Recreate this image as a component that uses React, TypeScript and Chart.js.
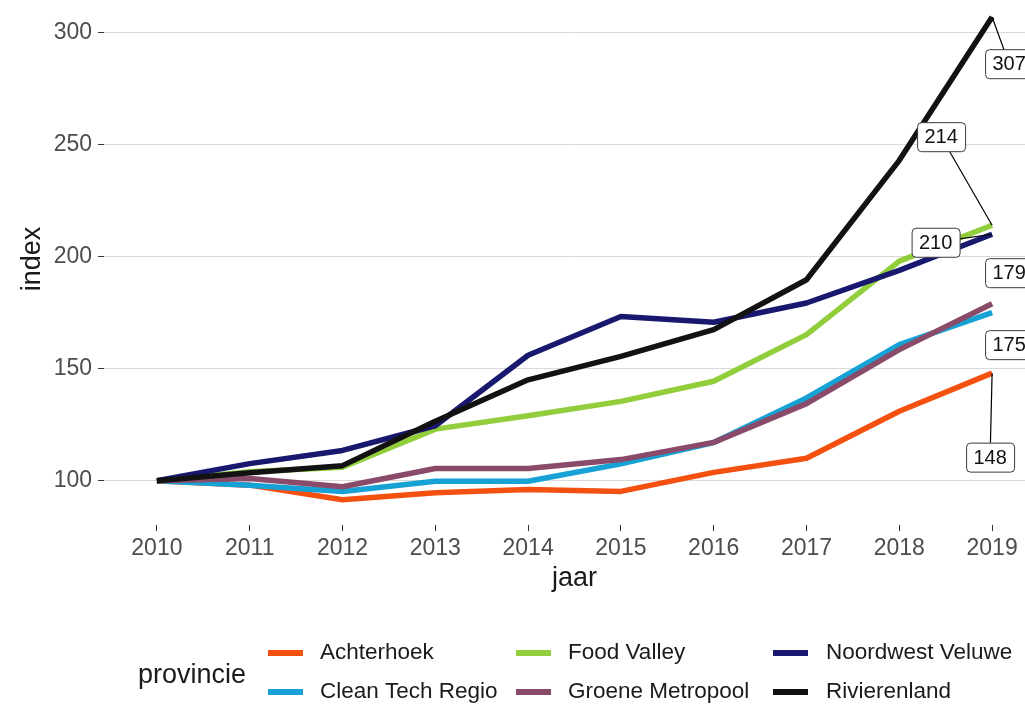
import React, { useEffect, useRef } from "react";
import { Chart, registerables } from "chart.js";

Chart.register(...registerables);

// ---------- data ----------
const years = [2010, 2011, 2012, 2013, 2014, 2015, 2016, 2017, 2018, 2019];
const seriesNames = [
  "Achterhoek",
  "Clean Tech Regio",
  "Food Valley",
  "Groene Metropool",
  "Noordwest Veluwe",
  "Rivierenland",
];
const achterhoek = [100, 98, 91.5, 94.6, 96, 95.2, 103.7, 110, 131, 148];
const cleanTechRegio = [100, 98, 95.2, 99.7, 99.7, 107.5, 117, 136.9, 160.7, 175];
const foodValley = [100, 104, 106, 123, 129, 135.4, 144.4, 165.2, 198, 214];
const groeneMetropool = [100, 101, 97.3, 105.4, 105.4, 109.4, 117.1, 134.4, 158.5, 179];
const noordwestVeluwe = [100, 107.6, 113.5, 124.5, 156, 173.3, 170.7, 179.3, 193.9, 210];
const rivierenland = [100, 103.5, 106.7, 126.5, 145, 155.5, 167.4, 189.7, 243, 307];
const yTicks = [100, 150, 200, 250, 300];
const xTicks = years;

// ---------- style / layout ----------
const seriesValues = [achterhoek, cleanTechRegio, foodValley, groeneMetropool, noordwestVeluwe, rivierenland];
const colors = ["#F4500F", "#16A2D4", "#92CD3C", "#8A4B6A", "#17186E", "#121212"];
const labelOffsets: [number, number][] = [
  [-2, 84],
  [17, 32],
  [-51, -88.6],
  [17, -31],
  [-56.5, 8],
  [17, 46.7],
];
const FONT = '"Liberation Sans", Arial, sans-serif';
const OFF = 20; // canvas is shifted up by this many px
const CW = 1080;
const CH = 725;

const endLabelPlugin = {
  id: "endLabels",
  afterDatasetsDraw(chart: any) {
    const ctx = chart.ctx;
    const xs = chart.scales.x;
    const ys = chart.scales.y;
    ctx.save();
    chart.data.datasets.forEach((ds: any, i: number) => {
      const last = ds.data[ds.data.length - 1];
      const px = xs.getPixelForValue(last.x);
      const py = ys.getPixelForValue(last.y);
      const [dx, dy] = labelOffsets[i];
      const cx = px + dx;
      const cy = py + dy;
      const w = 48;
      const h = 29;
      const bx = cx - w / 2;
      const by = cy - h / 2;
      const vx = cx - px;
      const vy = cy - py;
      let t = 1;
      if (Math.abs(vx) > 0.001) t = Math.min(t, (w / 2) / Math.abs(vx));
      if (Math.abs(vy) > 0.001) t = Math.min(t, (h / 2) / Math.abs(vy));
      const ex = cx - vx * t;
      const ey = cy - vy * t;
      const len = Math.hypot(ex - px, ey - py);
      if (len > 20) {
        ctx.strokeStyle = "#000";
        ctx.lineWidth = 1.2;
        ctx.beginPath();
        ctx.moveTo(px, py);
        ctx.lineTo(ex, ey);
        ctx.stroke();
      }
      ctx.fillStyle = "#ffffff";
      ctx.strokeStyle = "#3a3a3a";
      ctx.lineWidth = 1;
      ctx.beginPath();
      (ctx as any).roundRect(bx + 0.5, by + 0.5, w, h, 4);
      ctx.fill();
      ctx.stroke();
      ctx.fillStyle = "#111";
      ctx.font = `20px ${FONT}`;
      ctx.textAlign = "center";
      ctx.textBaseline = "middle";
      ctx.fillText(String(Math.round(last.y)), cx, cy + 1);
    });
    ctx.restore();
  },
};

const legendPlugin = {
  id: "ggLegend",
  afterDraw(chart: any) {
    const ctx = chart.ctx;
    ctx.save();
    ctx.textBaseline = "middle";
    ctx.textAlign = "left";
    ctx.fillStyle = "#1a1a1a";
    ctx.font = `27px ${FONT}`;
    ctx.fillText("provincie", 138, 675.5 + OFF);
    const swatchX = [268, 516, 773];
    const textX = [320, 568, 826];
    const rowY = [653, 692];
    chart.data.datasets.forEach((ds: any, i: number) => {
      const c = Math.floor(i / 2);
      const r = i % 2;
      const y = rowY[r] + OFF;
      ctx.strokeStyle = ds.borderColor;
      ctx.lineWidth = 6;
      ctx.lineCap = "butt";
      ctx.beginPath();
      ctx.moveTo(swatchX[c], y);
      ctx.lineTo(swatchX[c] + 35, y);
      ctx.stroke();
      ctx.fillStyle = "#1a1a1a";
      ctx.font = `22.5px ${FONT}`;
      ctx.fillText(ds.label, textX[c], y);
    });
    ctx.restore();
  },
};

export default function App() {
  const ref = useRef<HTMLCanvasElement | null>(null);

  useEffect(() => {
    document.body.style.overflow = "hidden";
    const canvas = ref.current!;
    const datasets = seriesNames.map((name, i) => ({
      label: name,
      data: years.map((yr, j) => ({ x: yr, y: seriesValues[i][j] })),
      borderColor: colors[i],
      backgroundColor: colors[i],
      borderWidth: 5.5,
      pointRadius: 0,
      pointHoverRadius: 0,
      tension: 0,
      borderCapStyle: "butt" as const,
      borderJoinStyle: "round" as const,
      order: seriesNames.length - i,
    }));

    const chart = new Chart(canvas, {
      type: "line",
      data: { datasets },
      plugins: [endLabelPlugin, legendPlugin],
      options: {
        responsive: false,
        animation: false,
        devicePixelRatio: 1,
        layout: { padding: { top: 12.8, right: CW - 1045, left: 0, bottom: 0 } },
        plugins: {
          legend: { display: false },
          tooltip: { enabled: false },
          title: { display: false },
        },
        scales: {
          x: {
            type: "linear",
            min: 2009.43,
            max: 2019.57,
            afterBuildTicks: (s: any) => {
              s.ticks = xTicks.map((v) => ({ value: v }));
            },
            afterFit: (s: any) => {
              s.height = CH - 545;
              s.paddingLeft = 0;
              s.paddingRight = 0;
            },
            border: { display: false },
            grid: {
              display: true,
              drawOnChartArea: false,
              drawTicks: true,
              tickLength: 6,
              tickColor: "#333333",
              tickWidth: 1,
            },
            ticks: {
              color: "#4d4d4d",
              font: { family: FONT, size: 23 },
              padding: 4,
              maxRotation: 0,
              autoSkip: false,
              callback: (v: any) => String(v),
            },
            title: {
              display: true,
              text: "jaar",
              color: "#1a1a1a",
              font: { family: FONT, size: 27 },
              padding: { top: 0, bottom: 110 },
            },
          },
          y: {
            type: "linear",
            min: 80.2,
            max: 317.8,
            afterBuildTicks: (s: any) => {
              s.ticks = yTicks.map((v) => ({ value: v }));
            },
            afterFit: (s: any) => {
              s.width = 104;
              s.paddingTop = 0;
              s.paddingBottom = 0;
            },
            border: { display: false },
            grid: {
              color: "#d9d9d9",
              lineWidth: 1,
              drawTicks: true,
              tickLength: 6,
              tickColor: "#333333",
              tickWidth: 1,
            },
            ticks: {
              color: "#4d4d4d",
              font: { family: FONT, size: 23 },
              padding: 6,
              callback: (v: any) => String(v),
            },
            title: {
              display: true,
              text: "index",
              color: "#1a1a1a",
              font: { family: FONT, size: 27 },
              padding: { top: 16.3, bottom: 0 },
            },
          },
        },
      },
    });
    return () => chart.destroy();
  }, []);

  return (
    <div
      style={{
        position: "fixed",
        left: 0,
        top: 0,
        width: 1025,
        height: 705,
        overflow: "hidden",
        background: "#ffffff",
      }}
    >
      <canvas
        ref={ref}
        width={CW}
        height={CH}
        style={{ position: "absolute", left: 0, top: -OFF, width: CW, height: CH }}
      />
    </div>
  );
}
